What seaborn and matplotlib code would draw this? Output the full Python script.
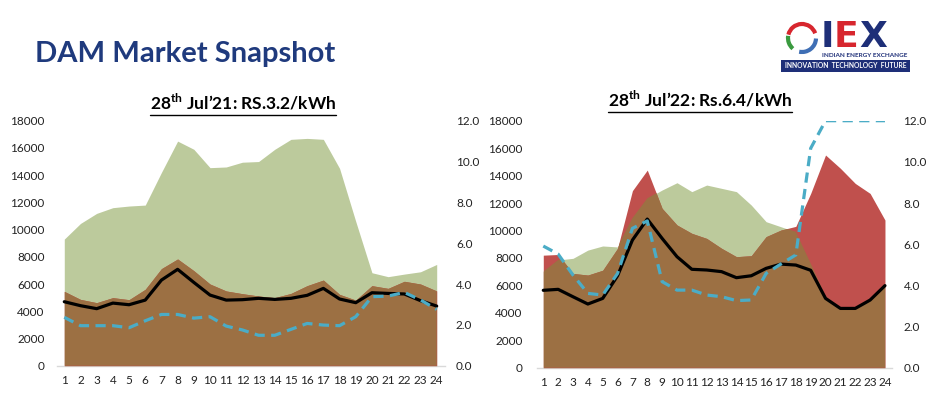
import numpy as np
import pandas as pd
import matplotlib.pyplot as plt
import seaborn as sns
from matplotlib.lines import Line2D
from matplotlib.patches import Rectangle, Arc

# ============================================================
# DATA
# ============================================================

hours = list(range(1, 25))

# 28 Jul 2021
buy_21 = [9300, 10450, 11190, 11610, 11730, 11800, 14200, 16500, 15900, 14550, 14600, 14950,
          15000, 15900, 16630, 16700, 16630, 14500, 10600, 6830, 6540, 6730, 6900, 7440]
sell_21 = [5460, 4870, 4630, 5000, 4850, 5610, 7130, 7840, 6980, 6000, 5490, 5290,
           5120, 5000, 5310, 5880, 6290, 5240, 4820, 5880, 5680, 6200, 6000, 5490]
mcv_21 = [4700, 4410, 4190, 4600, 4480, 4820, 6290, 7080, 6120, 5190, 4820, 4850,
          4950, 4870, 4950, 5170, 5680, 4900, 4630, 5360, 5310, 5270, 4780, 4380]
mcp_21 = [2.37, 1.96, 1.96, 1.96, 1.86, 2.20, 2.51, 2.51, 2.33, 2.40, 1.94, 1.75,
          1.49, 1.49, 1.78, 2.07, 1.99, 1.96, 2.40, 3.38, 3.41, 3.59, 3.22, 2.76]

# 28 Jul 2022
buy_22 = [7000, 7850, 7970, 8570, 8870, 8800, 10900, 12340, 12950, 13480, 12830, 13310,
          13070, 12830, 11850, 10640, 10270, 9900, 7600, 5200, 4400, 4400, 5000, 6050]
sell_22 = [8200, 8250, 6870, 6750, 7100, 8700, 12900, 14400, 11610, 10400, 9790, 9420,
           8700, 8090, 8160, 9550, 10030, 10300, 12700, 15500, 14530, 13430, 12700, 10760]
mcv_22 = [5640, 5710, 5170, 4640, 5050, 6700, 9300, 10830, 9420, 8090, 7170, 7120,
          7000, 6560, 6700, 7240, 7550, 7480, 7100, 5050, 4320, 4320, 4930, 5980]
mcp_22 = [5.91, 5.52, 4.50, 3.61, 3.53, 4.58, 6.77, 7.13, 4.18, 3.77, 3.77, 3.53,
          3.45, 3.26, 3.29, 4.58, 5.04, 5.48, 10.66, 12.0, 12.0, 12.0, 12.0, 12.0]

titles = [r"28$^{\mathbf{th}}$ Jul’21: RS.3.2/kWh", r"28$^{\mathbf{th}}$ Jul’22: Rs.6.4/kWh"]

# ============================================================
# STYLE
# ============================================================

sns.set_style("white")
plt.rcParams['font.family'] = ['Lato', 'DejaVu Sans']
plt.rcParams['mathtext.fontset'] = 'custom'
plt.rcParams['mathtext.rm'] = 'Lato:bold'
plt.rcParams['mathtext.bf'] = 'Lato:bold'

GREEN = '#BCCA9C'
RED = '#C0504D'
BROWN = '#9C7043'
BLUE = '#4BACC6'
NAVY = '#1F3A7D'
LOGO_RED = '#D7262E'
LOGO_NAVY = '#1E2F78'

W, H = 940, 399
fig = plt.figure(figsize=(W / 100, H / 100), dpi=100)


def fx(px):
    return px / W


def fy(py):
    return 1 - py / H


def draw_panel(rect, df, title, title_x, title_base, lpad, rpad):
    ax = fig.add_axes(rect)
    x = df['hour']
    ax.fill_between(x, 0, df['buy'], color=GREEN, lw=0, zorder=1)
    ax.fill_between(x, 0, df['sell'], color=RED, lw=0, zorder=2)
    # overlap of buy and sell areas -> brown
    buy_poly = ax.fill_between(x, 0, df['buy'], color='none', lw=0)
    overlap = ax.fill_between(x, 0, df['sell'], color=BROWN, lw=0, zorder=3)
    overlap.set_clip_path(buy_poly.get_paths()[0], ax.transData)

    sns.lineplot(data=df, x='hour', y='mcv', ax=ax, color='black', lw=2.3, zorder=4)

    ax.set_xlim(0.55, 24.5)
    ax.set_ylim(0, 18000)
    ax.set_yticks(range(0, 18001, 2000))
    ax.set_xticks(hours)
    ax.set_xlabel('')
    ax.set_ylabel('')
    ax.tick_params(axis='y', length=0, pad=lpad, labelsize=8.5, colors='#222222')
    ax.tick_params(axis='x', length=0, pad=7, labelsize=8.5, colors='#222222')
    for s in ['top', 'left', 'right']:
        ax.spines[s].set_visible(False)
    ax.spines['bottom'].set_color('#D9D9D9')
    ax.spines['bottom'].set_linewidth(1)
    ax.spines['bottom'].set_zorder(0)

    ax2 = ax.twinx()
    sns.lineplot(data=df, x='hour', y='mcp', ax=ax2, color=BLUE, lw=2.3,
                 linestyle=(0, (3.2, 2.0)), zorder=5)
    ax2.set_ylim(0, 12)
    ax2.set_yticks(np.arange(0, 12.1, 2))
    ax2.set_yticklabels([f"{v:.1f}" for v in np.arange(0, 12.1, 2)])
    ax2.set_ylabel('')
    ax2.tick_params(axis='y', length=0, pad=rpad, labelsize=8.5, colors='#222222')
    for s in ax2.spines.values():
        s.set_visible(False)

    t = fig.text(fx(title_x), fy(title_base), title, ha='center', va='baseline',
                 fontsize=12.5, fontweight='bold', color='black')
    return t


df21 = pd.DataFrame({'hour': hours, 'buy': buy_21, 'sell': sell_21, 'mcv': mcv_21, 'mcp': mcp_21})
df22 = pd.DataFrame({'hour': hours, 'buy': buy_22, 'sell': sell_22, 'mcv': mcv_22, 'mcp': mcp_22})

t1 = draw_panel([fx(57), fy(365.7), fx(444.8 - 57), (365.7 - 120.7) / H],
                df21, titles[0], 243, 110, 9, 8)
t2 = draw_panel([fx(536.6), fy(367.7), fx(892.4 - 536.6), (367.7 - 120.7) / H],
                df22, titles[1], 700, 106.5, 10, 8)

# main heading
fig.text(fx(35), fy(62), "DAM Market Snapshot", fontsize=21, fontweight='bold',
         color=NAVY, va='baseline', ha='left')

# logo (text based)
logo_font = ['DejaVu Sans']
for letter, xpos, col in [("I", 821, LOGO_NAVY), ("E", 834, LOGO_RED), ("X", 859, LOGO_NAVY)]:
    fig.text(fx(xpos), fy(47), letter, fontsize=26, fontweight='bold', color=col,
             family=logo_font, va='baseline', ha='left')
fig.text(fx(865), fy(57), "INDIAN ENERGY EXCHANGE", fontsize=4.6, color=LOGO_NAVY,
         fontweight='bold', va='baseline', ha='center')
fig.add_artist(Rectangle((fx(781), fy(72)), fx(129), 12 / H, transform=fig.transFigure,
                         facecolor=LOGO_NAVY, edgecolor='none'))
fig.text(fx(845.5), fy(66), "INNOVATION  TECHNOLOGY  FUTURE", fontsize=4.9, color='white',
         fontweight='bold', va='center', ha='center')
for a0, a1, col in [(40, 150, LOGO_RED), (160, 250, '#3A9A3F'), (265, 355, '#3F6FB5')]:
    fig.add_artist(Arc((fx(802), fy(38)), 28 / W, 28 / H, theta1=a0, theta2=a1,
                       transform=fig.transFigure, color=col, lw=3))

# underline the panel titles
fig.canvas.draw()
for t, off in [(t1, 2), (t2, 2.5)]:
    bb = t.get_window_extent()
    y = bb.y0 - off
    fig.add_artist(Line2D([bb.x0 / W, bb.x1 / W], [y / H, y / H],
                          transform=fig.transFigure, color='black', lw=1.0))

plt.savefig("out.png", dpi=100)
